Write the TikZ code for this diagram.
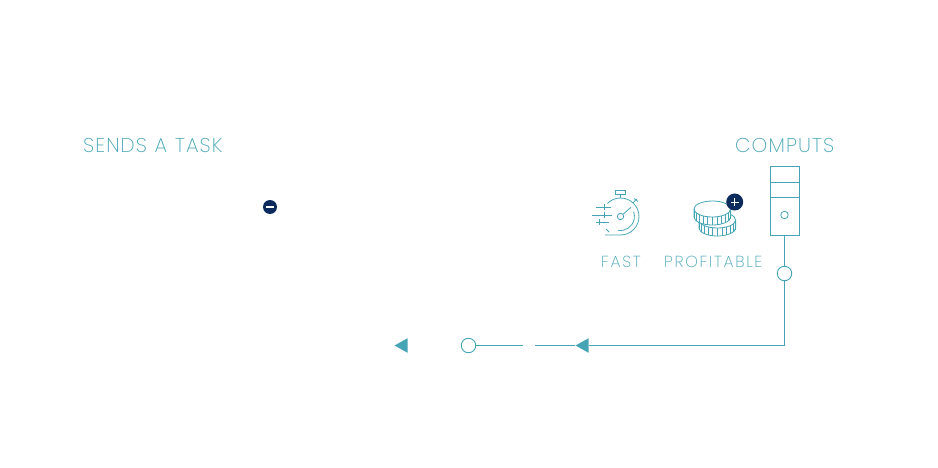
\documentclass[tikz,border=0pt]{standalone}
\usepackage{fontspec}
\setmainfont{Poppins ExtraLight}[LetterSpace=5.5]
\newfontfamily\smallf{Poppins ExtraLight}[LetterSpace=10.5]
\usetikzlibrary{shapes.geometric}
\definecolor{teal1}{HTML}{46A5B5}
\definecolor{navy1}{HTML}{0C2A5C}
\tikzset{
  ln/.style={draw=teal1,line width=0.9pt},
  lbl/.style={text=teal1,inner sep=0pt,anchor=base west},
  ring/.style={circle,draw=teal1,line width=0.9pt,fill=white,inner sep=0pt,minimum size=14.5pt},
  tri/.style={isosceles triangle,isosceles triangle stretches,shape border rotate=180,fill=teal1,inner sep=0pt,minimum height=13pt,minimum width=14.5pt,anchor=apex},
  badge/.style={circle,fill=navy1,inner sep=0pt},
  coin/.style={draw=teal1,line width=0.8pt,fill=white}
}
\begin{document}
\begin{tikzpicture}[x=1pt,y=-1pt]
\useasboundingbox (0,0) rectangle (938,468);
% labels
\node[lbl,font=\fontsize{20}{20}\selectfont] (lsend) at (83,152.5) {SENDS\hspace{1pt} A\hspace{1pt} TASK};
\node[lbl,font=\fontsize{20}{20}\selectfont] (lcomp) at (735,152.5) {COMPUTS};
\node[lbl,font=\fontsize{16}{16}\selectfont\smallf] (lfast) at (601,267) {FAST};
\node[lbl,font=\fontsize{16}{16}\selectfont\smallf] (lprof) at (664,267) {PROFITABLE};
% tower
\node[draw=teal1,line width=0.9pt,inner sep=0pt,minimum width=29pt,minimum height=69pt] (tower) at (784.5,200.5) {};
\draw[ln] (770,182) -- (799,182);
\draw[ln] (770,197) -- (799,197);
\node[circle,draw=teal1,line width=0.8pt,inner sep=0pt,minimum size=7.5pt] (led) at (784.5,215) {};
% connectors
\node[ring] (c1) at (784.5,273.5) {};
\node[ring] (c2) at (468.5,345.5) {};
\node[tri] (t1) at (575,345.5) {};
\node[tri] (t2) at (394,345.5) {};
\coordinate (gapL) at (523,345.5);
\coordinate (gapR) at (535,345.5);
\draw[ln] (tower.south) -- (c1.north);
\draw[ln] (c1.south) |- (t1.east);
\draw[ln] (t1.apex) -- (gapR);
\draw[ln] (c2.east) -- (gapL);
% minus badge
\node[badge,minimum size=14pt] (minus) at (270,207) {};
\draw[white,line width=1.6pt] (265.7,207) -- (274.3,207);
% stopwatch
\begin{scope}[ln,line width=0.8pt]
\draw (605,235) -- (620.5,235) arc[start angle=-90,end angle=135,x radius=18.5,y radius=-18.5];
\draw (618,230.3) arc[start angle=-100,end angle=20,x radius=14,y radius=-14];
\draw (606,229) -- (609,232);
\draw (615,190.5) rectangle (625,194.5);
\draw (620,194.5) -- (620,198);
\draw (633,203) -- (636.5,199) (634,198.5) -- (638,201.5);
\draw (620.5,216.5) circle[radius=3.2];
\draw (623,214.3) -- (631,207.3);
\draw (596,207.5) -- (611,207.5) (592,215) -- (612,215) (596,222.5) -- (609,222.5);
\draw (604,212) -- (604,218) (599,219.5) -- (599,225.5) (604.5,204.5) -- (604.5,210);
\end{scope}
% coins
\begin{scope}
\draw[coin] (699,220) -- (699,228) arc[start angle=180,end angle=360,x radius=18.3,y radius=-8] -- (735.6,220) arc[start angle=0,end angle=180,x radius=18.3,y radius=-8];
\draw[coin,fill=none] (699,220) arc[start angle=180,end angle=360,x radius=18.3,y radius=-8];
\foreach \a in {195,210,...,345} {
  \draw[teal1,line width=0.6pt] ({717.3+18.3*cos(\a)},{220-8*sin(\a)}) -- ++(0,8);
}
\draw[coin] (694,209) -- (694,217) arc[start angle=180,end angle=360,x radius=18.3,y radius=-8] -- (730.6,209) arc[start angle=0,end angle=180,x radius=18.3,y radius=-8];
\draw[coin,fill=none] (694,209) arc[start angle=180,end angle=360,x radius=18.3,y radius=-8];
\foreach \a in {195,210,...,345} {
  \draw[teal1,line width=0.6pt] ({712.3+18.3*cos(\a)},{209-8*sin(\a)}) -- ++(0,8);
}
\end{scope}
\node[badge,minimum size=17pt] (plus) at (734.7,202) {};
\draw[white,line width=0.9pt] (730.5,202) -- (739,202) (734.7,197.8) -- (734.7,206.2);
\end{tikzpicture}
\end{document}
